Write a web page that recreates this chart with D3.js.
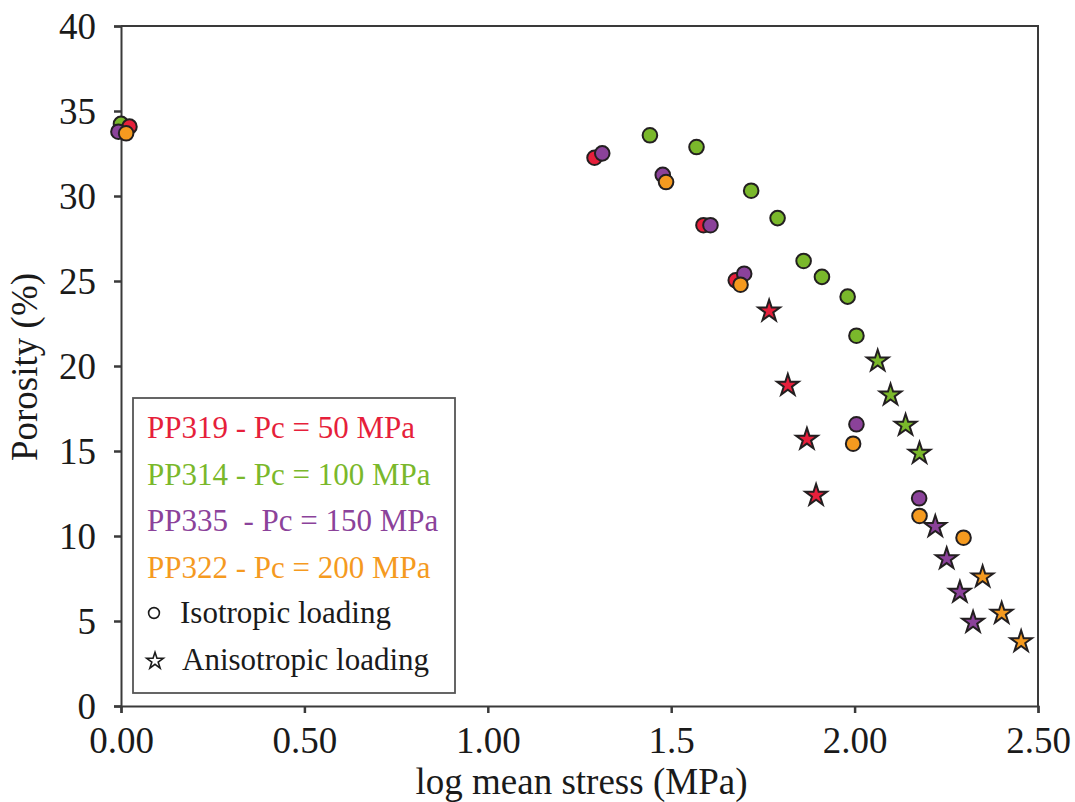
<!DOCTYPE html>
<html><head><meta charset="utf-8">
<script src="https://cdn.jsdelivr.net/npm/d3@7"></script>
<style>
html,body{margin:0;padding:0;background:#fff;}
svg{display:block;}
text{font-family:"Liberation Serif","Times New Roman",serif;}
</style></head>
<body><svg id="chart" width="1075" height="802"></svg>
<script>
// ---- data ----
const seriesNames = ["PP319 - Pc = 50 MPa","PP314 - Pc = 100 MPa","PP335  - Pc = 150 MPa","PP322 - Pc = 200 MPa"];
const seriesColors = ["#e61f3b","#7ab82b","#8b429a","#f59a1f"];
const xTickValues = [0,0.5,1,1.5,2,2.5];
const xTickLabels = ["0.00","0.50","1.00","1.5","2.00","2.50"];
const yTickValues = [0,5,10,15,20,25,30,35,40];

// isotropic loading (circles)
const pp319IsoX = [0.023,1.291,1.588,1.676];
const pp319IsoY = [34.08,32.25,28.28,25.04];
const pp314IsoX = [0.00,1.442,1.569,1.718,1.790,1.861,1.911,1.981,2.005];
const pp314IsoY = [34.24,33.57,32.88,30.31,28.70,26.18,25.24,24.08,21.78];
const pp335IsoX = [-0.007,1.312,1.477,1.607,1.699,2.005,2.176];
const pp335IsoY = [33.78,32.51,31.24,28.28,25.43,16.57,12.22];
const pp322IsoX = [0.014,1.486,1.689,1.996,2.177,2.297];
const pp322IsoY = [33.69,30.82,24.78,15.43,11.18,9.90];

// anisotropic loading (stars)
const pp319AnisoX = [1.767,1.818,1.870,1.895];
const pp319AnisoY = [23.29,18.92,15.75,12.45];
const pp314AnisoX = [2.063,2.098,2.139,2.177];
const pp314AnisoY = [20.35,18.35,16.57,14.92];
const pp335AnisoX = [2.220,2.251,2.287,2.323];
const pp335AnisoY = [10.61,8.72,6.75,4.98];
const pp322AnisoX = [2.349,2.401,2.454];
const pp322AnisoY = [7.65,5.51,3.84];

const isoX = [pp319IsoX,pp314IsoX,pp335IsoX,pp322IsoX];
const isoY = [pp319IsoY,pp314IsoY,pp335IsoY,pp322IsoY];
const anX = [pp319AnisoX,pp314AnisoX,pp335AnisoX,pp322AnisoX];
const anY = [pp319AnisoY,pp314AnisoY,pp335AnisoY,pp322AnisoY];

// ---- layout ----
const L=121, R=1038, T=26, B=706;
const svg = d3.select("#chart");
const x = d3.scaleLinear().domain([0,2.5]).range([L,R]);
const y = d3.scaleLinear().domain([0,40]).range([B,T]);
const frameColor = "#3a3a3a";

// frame (top & right)
svg.append("path").attr("d",`M${L},${T}H${R}V${B}`).attr("fill","none")
  .attr("stroke",frameColor).attr("stroke-width",2);

// axes
const xAxis = svg.append("g").attr("transform",`translate(0,${B})`)
  .call(d3.axisBottom(x).tickValues(xTickValues).tickFormat((d,i)=>xTickLabels[i]).tickSizeOuter(0).tickSize(7).tickPadding(14));
const yAxis = svg.append("g").attr("transform",`translate(${L},0)`)
  .call(d3.axisLeft(y).tickValues(yTickValues).tickFormat(d3.format("d")).tickSizeOuter(0).tickSize(7).tickPadding(18));
[xAxis,yAxis].forEach(g=>{
  g.select(".domain").attr("stroke",frameColor).attr("stroke-width",2);
  g.selectAll(".tick line").attr("stroke",frameColor).attr("stroke-width",2.5);
  g.selectAll(".tick text").attr("fill","#1a1a1a").style("font-size","37px").style("font-family","'Liberation Serif',serif");
});
yAxis.selectAll(".tick text").attr("dy","0.34em");

// axis titles
svg.append("text").attr("x",(L+R)/2+2).attr("y",794).attr("text-anchor","middle")
  .attr("fill","#1a1a1a").style("font-size","37px").text("log mean stress (MPa)");
svg.append("text").attr("transform","translate(37,367) rotate(-90)").attr("text-anchor","middle")
  .attr("fill","#1a1a1a").style("font-size","37px").text("Porosity (%)");

// markers
const order = [1,0,2,3];
const star = d3.symbol().type(d3.symbolStar).size(145);
const pts = svg.append("g");
order.forEach(s=>{
  const data = isoX[s].map((v,i)=>({x:v,y:isoY[s][i]}));
  pts.selectAll(null).data(data).enter().append("circle")
    .attr("cx",d=>x(d.x)).attr("cy",d=>y(d.y)).attr("r",7.3)
    .attr("fill",seriesColors[s]).attr("stroke","#231f20").attr("stroke-width",2);
});
order.forEach(s=>{
  const data = anX[s].map((v,i)=>({x:v,y:anY[s][i]}));
  pts.selectAll(null).data(data).enter().append("path")
    .attr("d",star).attr("transform",d=>`translate(${x(d.x)},${y(d.y)+1})`)
    .attr("fill",seriesColors[s]).attr("stroke","#231f20").attr("stroke-width",2).attr("stroke-linejoin","miter");
});

// legend
const lg = svg.append("g");
lg.append("rect").attr("x",133).attr("y",398).attr("width",322).attr("height",295)
  .attr("fill","#fff").attr("stroke","#555").attr("stroke-width",1.8);
const legendBase = [438,485,531,578];
seriesNames.forEach((n,i)=>{
  lg.append("text").attr("x",147).attr("y",legendBase[i]).attr("fill",seriesColors[i])
    .style("font-size","31px").style("white-space","pre").attr("xml:space","preserve").text(n);
});
lg.append("circle").attr("cx",154).attr("cy",613).attr("r",5.4).attr("fill","none").attr("stroke","#1a1a1a").attr("stroke-width",1.6);
lg.append("text").attr("x",180).attr("y",623).attr("fill","#1a1a1a").style("font-size","31px").text("Isotropic loading");
lg.append("path").attr("d",d3.symbol().type(d3.symbolStar).size(85)).attr("transform","translate(155,661)")
  .attr("fill","none").attr("stroke","#1a1a1a").attr("stroke-width",1.6);
lg.append("text").attr("x",182).attr("y",670).attr("fill","#1a1a1a").style("font-size","31px").text("Anisotropic loading");
</script></body></html>
